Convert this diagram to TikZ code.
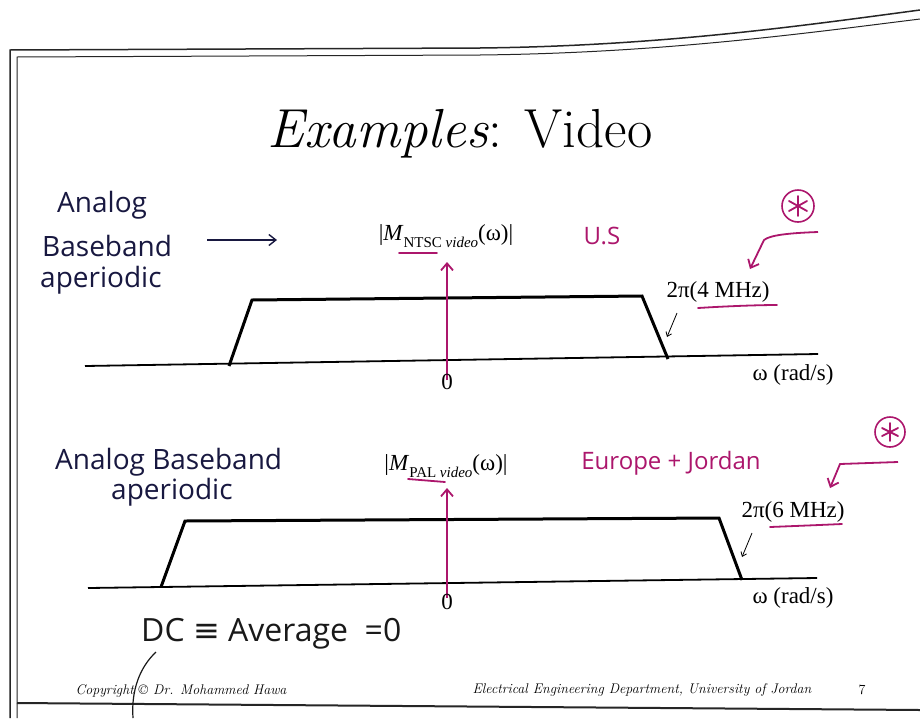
\documentclass[tikz,border=0pt]{standalone}
\usepackage{fontspec}
\newfontfamily\handfont{Open Sans}
\newfontfamily\lblfont{Liberation Serif}
\newfontfamily\symfont{DejaVu Sans}
\usetikzlibrary{arrows.meta}
\definecolor{pen}{RGB}{172,22,108}
\definecolor{ink}{RGB}{24,24,64}
\newcommand{\subtxt}[1]{\raisebox{-0.28em}{\fontsize{15}{15}\selectfont #1}}
\begin{document}
\begin{tikzpicture}[x=1pt,y=-1pt,
  frameline/.style={line width=1.5pt, black!85},
  trap/.style={line width=3pt, line join=miter},
  axisline/.style={line width=1.8pt},
  penarrow/.style={pen, line width=1.8pt, -{Straight Barb[length=7pt,width=12pt,line width=1.8pt]}},
  penline/.style={pen, line width=1.8pt, line cap=round},
  tinyarrow/.style={line width=0.8pt, -{Straight Barb[length=4pt,width=6pt]}},
  hand/.style={font=\handfont\fontsize{28}{30}\selectfont, text=ink, inner sep=0pt},
  handpen/.style={font=\handfont\fontsize{24}{26}\selectfont, text=pen, inner sep=0pt},
  lbl/.style={font=\lblfont\fontsize{23}{25}\selectfont, inner sep=0pt},
  foot/.style={font=\itshape\fontsize{14}{16}\selectfont, inner sep=0pt},
  starc/.style={circle, draw=pen, line width=1.6pt, minimum size=32pt, inner sep=0pt},
  astline/.style={pen, line width=1.8pt, line cap=round}
]
\useasboundingbox (0,0) rectangle (920,718);
\fill[white] (0,0) rectangle (920,718);

% slide frame
\draw[frameline] (10,718) -- (10,50) -- (480,48) .. controls (660,46) and (800,26) .. (920,10);
\draw[frameline, line width=1pt] (17,718) -- (17,57) -- (480,55) .. controls (660,53) and (800,34) .. (920,19);
\draw[frameline, line width=2pt] (17,703) -- (920,710);

% title
\node[inner sep=0pt, font=\fontsize{55}{60}\selectfont] (title) at (460,134) {\textit{Examples}: Video};

% ---------- upper spectrum (NTSC) ----------
\coordinate (ax1l) at (85,366);
\coordinate (ax1r) at (818,354);
\coordinate (t1a) at (229,366);
\coordinate (t1b) at (252,300);
\coordinate (t1c) at (642,296);
\coordinate (t1d) at (668,359);
\draw[axisline] (ax1l) -- (ax1r);
\draw[trap] (t1a) -- (t1b) -- (t1c) -- (t1d);
\coordinate (v1b) at (447,380);
\coordinate (v1t) at (447,262);
\draw[penarrow] (v1b) -- (v1t);

\node[lbl] (lab1) at (446,236) {|\textit{M}\subtxt{NTSC \textit{video}}(ω)|};
\coordinate (u1a) at (399,253);
\coordinate (u1b) at (437,253);
\draw[penline] (u1a) -- (u1b);
\node[handpen] (us) at (602,236) {U.S};
\node[lbl] (zero1) at (447,382) {0};
\node[lbl] (w1) at (793,375) {ω (rad/s)};
\node[lbl] (f1) at (718,292) {2π(4 MHz)};
\coordinate (fu1a) at (698,308);
\coordinate (fu1b) at (777,305);
\draw[penline] (fu1a) .. controls (730,306) and (760,305) .. (fu1b);
\coordinate (sa1) at (677,313);
\coordinate (sb1) at (667,337);
\draw[tinyarrow] (sa1) -- (sb1);
\node[starc] (st1) at (798,206) {};
\draw[astline] ([yshift=-10pt]st1.center) -- ([yshift=10pt]st1.center);
\draw[astline] ([shift={(-9pt,-5pt)}]st1.center) -- ([shift={(9pt,5pt)}]st1.center);
\draw[astline] ([shift={(-9pt,5pt)}]st1.center) -- ([shift={(9pt,-5pt)}]st1.center);
\coordinate (hk1a) at (818,232);
\coordinate (hk1b) at (764,240);
\coordinate (hk1c) at (750,269);
\draw[penarrow] (hk1a) .. controls (790,233) and (770,235) .. (hk1b) -- (hk1c);

\node[hand, anchor=west] (an1) at (57,205) {Analog};
\node[hand, anchor=west] (bb1) at (42,246) {Baseband};
\node[hand, anchor=west] (ap1) at (40,280) {aperiodic};
\coordinate (ar1a) at (207,240);
\coordinate (ar1b) at (277,240);
\draw[ink, line width=1.4pt, -{Straight Barb[length=7pt,width=11pt]}] (ar1a) -- (ar1b);

% ---------- lower spectrum (PAL) ----------
\coordinate (ax2l) at (88,588);
\coordinate (ax2r) at (817,578);
\coordinate (t2a) at (161,587);
\coordinate (t2b) at (185,521);
\coordinate (t2c) at (719,518);
\coordinate (t2d) at (742,580);
\draw[axisline] (ax2l) -- (ax2r);
\draw[trap] (t2a) -- (t2b) -- (t2c) -- (t2d);
\coordinate (v2b) at (447,598);
\coordinate (v2t) at (447,488);
\draw[penarrow] (v2b) -- (v2t);

\node[lbl] (lab2) at (446,466) {|\textit{M}\subtxt{PAL \textit{video}}(ω)|};
\coordinate (u2a) at (408,479);
\coordinate (u2b) at (445,482);
\draw[penline] (u2a) -- (u2b);
\node[handpen] (eu) at (671,463) {Europe + Jordan};
\node[lbl] (zero2) at (447,602) {0};
\node[lbl] (w2) at (793,598) {ω (rad/s)};
\node[lbl] (f2) at (793,512) {2π(6 MHz)};
\coordinate (fu2a) at (770,527);
\coordinate (fu2b) at (842,524);
\draw[penline] (fu2a) .. controls (795,526) and (820,525) .. (fu2b);
\coordinate (sa2) at (752,533);
\coordinate (sb2) at (742,557);
\draw[tinyarrow] (sa2) -- (sb2);
\node[starc, minimum size=30pt] (st2) at (890,432) {};
\draw[astline] ([yshift=-9pt]st2.center) -- ([yshift=9pt]st2.center);
\draw[astline] ([shift={(-8pt,-4pt)}]st2.center) -- ([shift={(8pt,4pt)}]st2.center);
\draw[astline] ([shift={(-8pt,4pt)}]st2.center) -- ([shift={(8pt,-4pt)}]st2.center);
\coordinate (hk2a) at (898,462);
\coordinate (hk2b) at (840,464);
\coordinate (hk2c) at (830,488);
\draw[penarrow] (hk2a) -- (hk2b) -- (hk2c);

\node[hand, anchor=west] (an2) at (55,462) {Analog Baseband};
\node[hand, anchor=west] (ap2) at (111,492) {aperiodic};

% ---------- notes and footer ----------
\node[hand, anchor=west, text=black!90, font=\handfont\fontsize{32}{34}\selectfont] (dc) at (141,634) {DC {\symfont ≡} Average\ \ =0};
\coordinate (pa) at (156,652);
\coordinate (pb) at (133,718);
\draw[line width=1.2pt, black!90] (pa) .. controls (140,667) and (131,690) .. (pb);

\node[foot] (copy) at (181,691) {Copyright \textcopyright\ Dr. Mohammed Hawa};
\node[foot] (dept) at (642,690) {Electrical Engineering Department, University of Jordan};
\node[inner sep=0pt, font=\fontsize{14}{16}\selectfont] (pg) at (862,690) {7};
\end{tikzpicture}
\end{document}
